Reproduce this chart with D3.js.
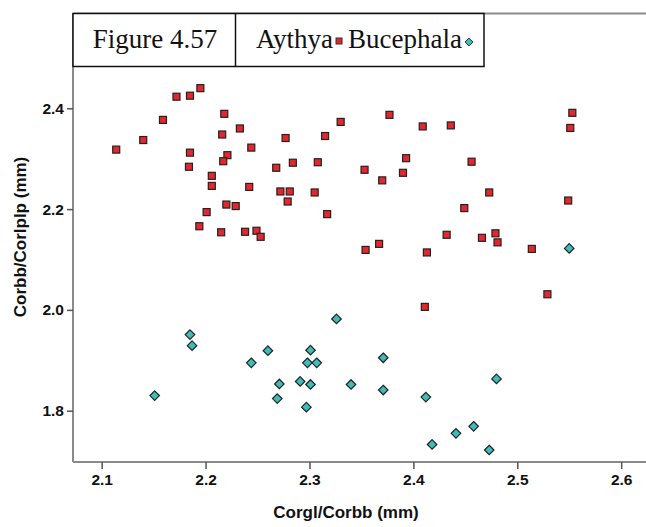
<!DOCTYPE html>
<html><head><meta charset="utf-8">
<script src="https://cdn.jsdelivr.net/npm/d3@7"></script>
<style>body{margin:0;background:#fff}svg{display:block}</style>
</head><body>
<svg id="c" width="646" height="527"></svg>
<script>
const title = "Figure 4.57";
const seriesNames = ["Aythya", "Bucephala"];
const xLabel = "Corgl/Corbb (mm)";
const yLabel = "Corbb/Corlplp (mm)";
const xTicks = [2.1, 2.2, 2.3, 2.4, 2.5, 2.6];
const yTicks = [1.8, 2.0, 2.2, 2.4];

const aythyaX = [2.114,2.140,2.159,2.172,2.185,2.195,2.218,2.233,2.216,2.185,2.184,2.221,2.217,2.244,2.277,2.330,2.315,2.268,2.284,2.308,2.206,2.206,2.242,2.272,2.281,2.305,2.279,2.220,2.229,2.201,2.317,2.194,2.215,2.238,2.249,2.253,
 2.377,2.409,2.436,2.553,2.551,2.393,2.456,2.353,2.370,2.390,2.473,2.549,2.449,2.432,2.466,2.479,2.481,2.367,2.354,2.413,2.514,2.529,2.411];
const aythyaY = [2.318,2.337,2.377,2.423,2.425,2.440,2.389,2.360,2.348,2.312,2.284,2.307,2.295,2.322,2.341,2.373,2.345,2.282,2.292,2.293,2.266,2.246,2.244,2.235,2.235,2.233,2.215,2.209,2.206,2.194,2.190,2.166,2.154,2.155,2.157,2.145,
 2.387,2.364,2.366,2.391,2.361,2.301,2.294,2.278,2.257,2.272,2.233,2.217,2.202,2.149,2.143,2.152,2.134,2.131,2.119,2.114,2.121,2.031,2.006];
const bucephalaX = [2.185,2.187,2.151,2.244,2.260,2.326,2.301,2.298,2.307,2.271,2.291,2.301,2.269,2.297,2.340,2.371,2.371,2.412,2.480,2.418,2.441,2.458,2.473,2.550];
const bucephalaY = [1.951,1.929,1.830,1.895,1.919,1.982,1.920,1.895,1.895,1.853,1.858,1.852,1.824,1.807,1.852,1.905,1.841,1.827,1.863,1.733,1.755,1.769,1.722,2.122];

const svg = d3.select("#c");
const L = 73, R = 652, T = 13.5, B = 462;
const x = d3.scaleLinear().domain([2.0724, 2.0724 + (R - L) / 1039]).range([L, R]);
const y = d3.scaleLinear().domain([1.6982, 1.6982 + (B - T) / 504]).range([B, T]);

const axisCol = "#8a8a8a";
const sans = "Arial, 'Liberation Sans', sans-serif";
svg.append("line").attr("x1", L).attr("x2", 646).attr("y1", T).attr("y2", T).attr("stroke", axisCol).attr("stroke-width", 2);

const xa = svg.append("g").attr("transform", `translate(0,${B})`)
  .call(d3.axisBottom(x).tickValues(xTicks).tickFormat(d3.format(".1f")).tickSize(7).tickPadding(5));
const ya = svg.append("g").attr("transform", `translate(${L},0)`)
  .call(d3.axisLeft(y).tickValues(yTicks).tickFormat(d3.format(".1f")).tickSize(6).tickPadding(3));
[xa, ya].forEach(a => {
  a.select(".domain").attr("stroke", axisCol).attr("stroke-width", 2);
  a.selectAll(".tick line").attr("stroke", "#555").attr("stroke-width", 1.5);
  a.selectAll(".tick text").attr("fill", "#111").style("font-family", sans).style("font-size", "15.5px").style("font-weight", "bold");
});
xa.select(".domain").attr("d", `M${L},0H${R}`);
ya.select(".domain").attr("d", `M0,${T}V${B}`);

svg.append("text").attr("x", 346).attr("y", 518).attr("text-anchor", "middle")
  .style("font-family", sans).style("font-size", "17px").style("font-weight", "bold").attr("fill", "#111").text(xLabel);
svg.append("text").attr("transform", `translate(26,237) rotate(-90)`).attr("text-anchor", "middle")
  .style("font-family", sans).style("font-size", "17px").style("font-weight", "bold").attr("fill", "#111").text(yLabel);

const red = "#e5262d", teal = "#3dbcbc";
svg.append("g").selectAll("rect").data(d3.range(aythyaX.length)).join("rect")
  .attr("x", i => x(aythyaX[i]) - 3.5).attr("y", i => y(aythyaY[i]) - 3.5)
  .attr("width", 7).attr("height", 7).attr("fill", red).attr("stroke", "#222").attr("stroke-width", 1.2);
const dia = d3.symbol().type(d3.symbolDiamond2).size(58);
svg.append("g").selectAll("path").data(d3.range(bucephalaX.length)).join("path")
  .attr("transform", i => `translate(${x(bucephalaX[i])},${y(bucephalaY[i])})`)
  .attr("d", dia).attr("fill", teal).attr("stroke", "#222").attr("stroke-width", 1.2);

const hb = svg.append("g");
hb.append("rect").attr("x", 73).attr("y", 13.5).attr("width", 411).attr("height", 53).attr("fill", "#fff").attr("stroke", "#111").attr("stroke-width", 1.5);
hb.append("line").attr("x1", 235.5).attr("x2", 235.5).attr("y1", 13.5).attr("y2", 66.5).attr("stroke", "#111").attr("stroke-width", 1.5);
const serif = "'Liberation Serif', 'Times New Roman', serif";
const fs = "27px";
hb.append("text").attr("x", 155).attr("y", 48).attr("text-anchor", "middle").style("font-family", serif).style("font-size", fs).attr("fill", "#111").text(title);
const t1 = hb.append("text").attr("x", 256).attr("y", 48).style("font-family", serif).style("font-size", fs).attr("fill", "#111").text(seriesNames[0]);
const w1 = t1.node().getComputedTextLength();
hb.append("rect").attr("x", 256 + w1 + 3).attr("y", 38).attr("width", 6).attr("height", 6).attr("fill", red).attr("stroke", "#333").attr("stroke-width", 1);
const x2 = 256 + w1 + 15;
const t2 = hb.append("text").attr("x", x2).attr("y", 48).style("font-family", serif).style("font-size", fs).attr("fill", "#111").text(seriesNames[1]);
const w2 = t2.node().getComputedTextLength();
hb.append("path").attr("transform", `translate(${x2 + w2 + 7},42)`).attr("d", d3.symbol().type(d3.symbolDiamond2).size(40)).attr("fill", teal).attr("stroke", "#333").attr("stroke-width", 1);
</script>
</body></html>
